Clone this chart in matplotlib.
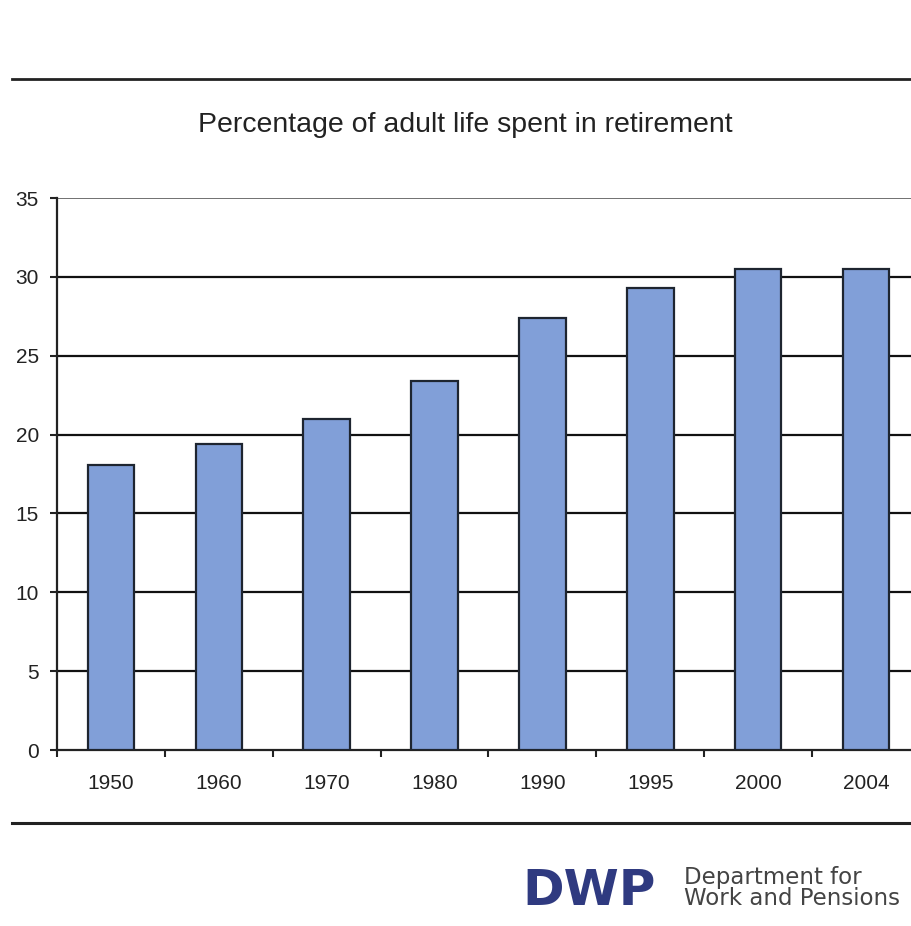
import matplotlib
matplotlib.use("Agg")
import matplotlib.pyplot as plt
from matplotlib.lines import Line2D

years = ["1950", "1960", "1970", "1980", "1990", "1995", "2000", "2004"]
values = [18.1, 19.4, 21.0, 23.4, 27.4, 29.3, 30.5, 30.5]
yticks = [0, 5, 10, 15, 20, 25, 30, 35]
title = "Percentage of adult life spent in retirement"

plt.rcParams['font.family'] = ['Liberation Sans', 'DejaVu Sans']

W, H = 912, 926
fig = plt.figure(figsize=(W / 100, H / 100), dpi=100)
fig.patch.set_facecolor('white')

left = 57 / W
right = 920 / W
bottom = 1 - 750 / H
top = 1 - 198 / H
ax = fig.add_axes([left, bottom, right - left, top - bottom])

x = list(range(len(years)))
ax.bar(x, values, width=0.43, color='#819fd8', edgecolor='#1e2530', linewidth=1.6, zorder=3)

ax.set_xlim(-0.5, len(years) - 0.5)
ax.set_ylim(0, 35)
ax.set_yticks(yticks)
ax.set_yticklabels([str(v) for v in yticks], fontsize=15, color='#222222')
ax.set_xticks(x)
ax.set_xticklabels(years, fontsize=15, color='#222222')
ax.tick_params(axis='x', which='major', length=0, pad=17)
ax.set_xticks([i + 0.5 for i in range(-1, len(years))], minor=True)
ax.tick_params(axis='x', which='minor', length=5, width=1.5, color='#222222', direction='out')
ax.tick_params(axis='y', length=5, width=1.5, color='#222222', pad=8)

for v in yticks[1:]:
    ax.axhline(v, color='#111111' if v < 35 else '#666666', linewidth=1.6 if v < 35 else 1.3, zorder=1)

for s in ['top', 'right']:
    ax.spines[s].set_visible(False)
ax.spines['left'].set_linewidth(1.6)
ax.spines['left'].set_color('#222222')
ax.spines['bottom'].set_linewidth(1.6)
ax.spines['bottom'].set_color('#222222')

fig.text(465 / W, 1 - 125 / H, title, ha='center', va='center', fontsize=20.5, color='#222222')

# horizontal rules
fig.add_artist(Line2D([12 / W, 1.0], [1 - 79 / H] * 2, color='#222222', linewidth=2))
fig.add_artist(Line2D([12 / W, 1.0], [1 - 823 / H] * 2, color='#222222', linewidth=2.2))

# DWP logo
fig.text(522 / W, 1 - 905 / H, "DWP", ha='left', va='baseline', fontsize=36, fontweight='bold',
         color='#2f3a80', family='DejaVu Sans')
fig.text(684 / W, 1 - 884 / H, "Department for", ha='left', va='baseline', fontsize=16.5,
         color='#444444', family='DejaVu Sans')
fig.text(684 / W, 1 - 905 / H, "Work and Pensions", ha='left', va='baseline', fontsize=16.5,
         color='#444444', family='DejaVu Sans')

fig.savefig("out.png", dpi=100, facecolor='white')
